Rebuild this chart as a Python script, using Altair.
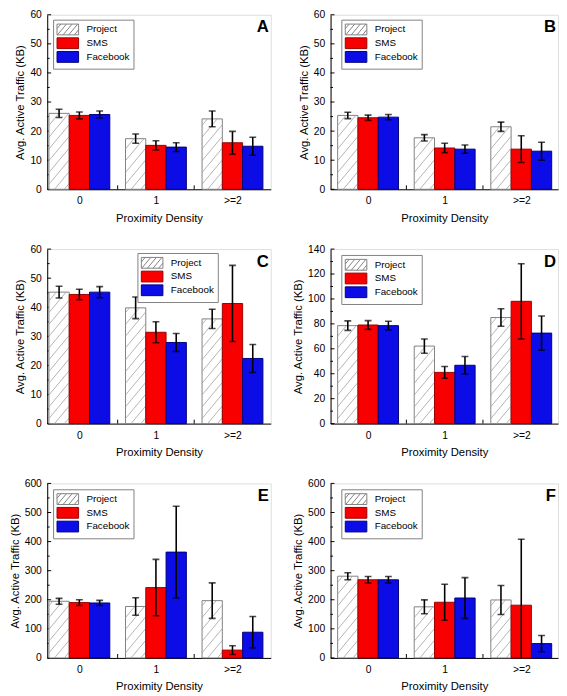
import altair as alt
import pandas as pd
import numpy as np

# ---------------- data ----------------
densities = ["0", "1", ">=2"]
series = ["Project", "SMS", "Facebook"]

A_mean = {"Project": [26.1, 17.4, 24.2], "SMS": [25.4, 15.1, 16.0], "Facebook": [25.7, 14.5, 14.8]}
A_err = {"Project": [1.4, 1.6, 2.7], "SMS": [1.2, 1.6, 3.9], "Facebook": [1.2, 1.5, 3.1]}

B_mean = {"Project": [25.4, 17.7, 21.5], "SMS": [24.6, 14.2, 13.8], "Facebook": [24.8, 13.8, 13.1]}
B_err = {"Project": [1.1, 1.1, 1.6], "SMS": [0.9, 1.6, 4.6], "Facebook": [0.9, 1.4, 3.1]}

C_mean = {"Project": [45.2, 39.8, 36.0], "SMS": [44.4, 31.4, 41.3], "Facebook": [45.2, 27.9, 22.4]}
C_err = {"Project": [2.0, 3.7, 3.3], "SMS": [1.8, 3.6, 13.1], "Facebook": [1.9, 3.1, 4.8]}

D_mean = {"Project": [78.6, 62.2, 85.1], "SMS": [79.1, 41.1, 98.1], "Facebook": [78.6, 46.8, 72.6]}
D_err = {"Project": [3.8, 5.7, 7.0], "SMS": [3.5, 4.7, 30.2], "Facebook": [3.5, 7.0, 13.7]}

E_mean = {"Project": [194.8, 176.9, 197.0], "SMS": [190.3, 241.8, 26.9], "Facebook": [189.0, 363.8, 88.4]}
E_err = {"Project": [10, 30, 61], "SMS": [10, 97, 15], "Facebook": [9, 158, 54]}

F_mean = {"Project": [281.0, 175.7, 199.3], "SMS": [268.7, 191.4, 181.3], "Facebook": [268.7, 206.0, 49.3]}
F_err = {"Project": [12, 24, 50], "SMS": [11, 62, 227], "Facebook": [11, 70, 28]}

y_max = {"A": 60, "B": 60, "C": 60, "D": 140, "E": 600, "F": 600}
y_step = {"A": 10, "B": 10, "C": 10, "D": 20, "E": 100, "F": 100}

# ---------------- styling ----------------
FONT = "Liberation Sans"
BAR_W = 0.265
H = 178
FILLS = {"Project": "white", "SMS": "#f80000", "Facebook": "#0c0ce6"}
STROKES = {"Project": "#808080", "SMS": "#9a0000", "Facebook": "#00007a"}
HATCH_SLOPE = 1.2
HATCH_PERIOD = 12.0
PAD = {"left": 0, "top": -6, "right": 0, "bottom": 0}


def hatch_segments(x0, x1, top, xpx, ypx):
    wpx = (x1 - x0) * xpx
    hpx = top * ypx
    segs = []
    for c in np.arange(-HATCH_SLOPE * wpx - HATCH_PERIOD * 0.5, hpx + HATCH_PERIOD, HATCH_PERIOD):
        us = max(0.0, -c / HATCH_SLOPE)
        ue = min(wpx, (hpx - c) / HATCH_SLOPE)
        if ue - us > 0.5:
            segs.append({
                "hx": x0 + us / xpx, "hy": (HATCH_SLOPE * us + c) / ypx,
                "hx2": x0 + ue / xpx, "hy2": (HATCH_SLOPE * ue + c) / ypx,
            })
    return segs


def legend_path(hatched):
    # rectangle in unit space [-2,2]x[-1,1], optional "/" hatch lines
    p = "M-2,-1H2V1H-2Z"
    if hatched:
        k, per = 1.2, 1.25
        for c in np.arange(-k * 4 - 0.3, 2 + per, per):
            us = max(0.0, -c / k)
            ue = min(4.0, (2 - c) / k)
            if ue - us > 0.1:
                x_a, y_a = us - 2, 1 - (k * us + c)
                x_b, y_b = ue - 2, 1 - (k * ue + c)
                p += f"M{x_a:.2f},{y_a:.2f}L{x_b:.2f},{y_b:.2f}"
    return p


def make_panel(letter, means, errs, xdom, W, leg_xy):
    ymax, step = y_max[letter], y_step[letter]
    xpx = W / (xdom[1] - xdom[0])
    ypx = H / ymax

    rows, hatch = [], []
    for si, s in enumerate(series):
        for gi, d in enumerate(densities):
            xc = gi + (si - 1) * BAR_W
            v, e = means[s][gi], errs[s][gi]
            rows.append({"series": s, "density": d, "xc": xc,
                         "x0": xc - BAR_W / 2, "x1": xc + BAR_W / 2,
                         "v": v, "lo": v - e, "hi": v + e})
            if s == "Project":
                hatch += hatch_segments(xc - BAR_W / 2, xc + BAR_W / 2, v, xpx, ypx)
    df = pd.DataFrame(rows)
    hdf = pd.DataFrame(hatch)

    xs = alt.Scale(domain=xdom, nice=False, zero=False)
    ys = alt.Scale(domain=[0, ymax], nice=False)
    label_expr = "[" + ",".join(f"'{d}'" for d in densities) + "][datum.value]"
    xaxis = alt.Axis(title="Proximity Density", values=[0, 1, 2], labelExpr=label_expr,
                     ticks=False, grid=False, domainColor="black", labelColor="black",
                     titleColor="black", labelFont=FONT, titleFont=FONT, labelFontSize=10.5,
                     titleFontSize=11.5, titleFontWeight="normal", labelPadding=7, titlePadding=6)
    yaxis = alt.Axis(title="Avg. Active Traffic (KB)", values=list(range(0, ymax + 1, step)),
                     ticks=False, grid=False, domainColor="black", labelColor="black",
                     titleColor="black", labelFont=FONT, titleFont=FONT, labelFontSize=10.5,
                     titleFontSize=11.5, titleFontWeight="normal", labelPadding=6, titlePadding=4)

    def X(f):
        return alt.X(f, type="quantitative", scale=xs, axis=xaxis)

    def Y(f):
        return alt.Y(f, type="quantitative", scale=ys, axis=yaxis)

    base = alt.Chart(df)

    # inward tick marks
    major = pd.DataFrame({"t": list(range(0, ymax + 1, step))})
    minor = pd.DataFrame({"t": [t + step / 2 for t in range(0, ymax, step)]})
    xt = pd.DataFrame({"t": [0.5, 1.5]})
    tick_major = alt.Chart(major).mark_rule(color="black", strokeWidth=1).encode(
        y=Y("t"), x=alt.value(0), x2=alt.value(4))
    tick_minor = alt.Chart(minor).mark_rule(color="black", strokeWidth=1).encode(
        y=Y("t"), x=alt.value(0), x2=alt.value(2.5))
    tick_x = alt.Chart(xt).mark_rule(color="black", strokeWidth=1).encode(
        x=X("t"), y=alt.value(H), y2=alt.value(H - 4))

    layers = [tick_major, tick_minor, tick_x]
    for s in series:
        bars = base.transform_filter(alt.datum.series == s).mark_rect(
            fill=FILLS[s], stroke=STROKES[s], strokeWidth=1).encode(
            x=X("x0"), x2="x1", y=Y("v"), y2=alt.Y2Datum(0))
        layers.append(bars)
        if s == "Project":
            layers.append(alt.Chart(hdf).mark_rule(color="#a0a0a0", strokeWidth=0.8).encode(
                x=X("hx"), x2="hx2", y=Y("hy"), y2="hy2"))

    err = base.mark_rule(color="black", strokeWidth=1.6, clip=True).encode(
        x=X("xc"), y=Y("lo"), y2="hi")
    cap_hi = base.mark_tick(orient="horizontal", size=7, thickness=1.6, color="black",
                            clip=True).encode(x=X("xc"), y=Y("hi"))
    cap_lo = base.mark_tick(orient="horizontal", size=7, thickness=1.6, color="black",
                            clip=True).encode(x=X("xc"), y=Y("lo"))
    layers += [err, cap_hi, cap_lo]

    leg = alt.Legend(title=None, orient="none", legendX=leg_xy[0], legendY=leg_xy[1],
                     symbolSize=121, symbolOffset=5, labelOffset=13, labelFont=FONT,
                     labelFontSize=10, labelColor="black", strokeColor="#808080",
                     fillColor="white", padding=4, rowPadding=-7, symbolStrokeWidth=1,
                     symbolOpacity=1)
    legend_layer = base.mark_point(filled=True, opacity=0, strokeWidth=1).encode(
        x=X("xc"), y=Y("v"),
        fill=alt.Fill("series:N", scale=alt.Scale(domain=series, range=[FILLS[s] for s in series]),
                      legend=leg, sort=series),
        stroke=alt.Stroke("series:N", scale=alt.Scale(domain=series, range=[STROKES[s] for s in series]),
                          legend=leg, sort=series),
        shape=alt.Shape("series:N", scale=alt.Scale(domain=series,
                                                    range=[legend_path(True), legend_path(False), legend_path(False)]),
                        legend=leg, sort=series),
    )
    layers.append(legend_layer)

    letter_layer = alt.Chart(pd.DataFrame({"t": [letter]})).mark_text(
        font=FONT, fontSize=17, fontWeight="bold", color="black", align="right",
        baseline="alphabetic").encode(text="t:N", x=alt.value(W - 2), y=alt.value(18))
    layers.append(letter_layer)

    return alt.layer(*layers).properties(width=W, height=H)


left_dom = [-0.42, 2.5]
right_dom = [-0.49, 2.48]
pA = make_panel("A", A_mean, A_err, left_dom, 228, (6, 5))
pB = make_panel("B", B_mean, B_err, right_dom, 232, (11, 5))
pC = make_panel("C", C_mean, C_err, left_dom, 228, (92, 4))
pD = make_panel("D", D_mean, D_err, right_dom, 232, (11, 6))
pE = make_panel("E", E_mean, E_err, left_dom, 228, (6, 6))
pF = make_panel("F", F_mean, F_err, right_dom, 232, (11, 6))

chart = alt.concat(pA, pB, pC, pD, pE, pF, columns=2, spacing={"row": 19, "column": 20}).resolve_scale(
    x="independent", y="independent", fill="independent", stroke="independent", shape="independent"
).configure_view(stroke="black", strokeWidth=1).configure(background="white", padding=PAD)

chart.save("out.html", embed_options={"renderer": "svg", "actions": False})
